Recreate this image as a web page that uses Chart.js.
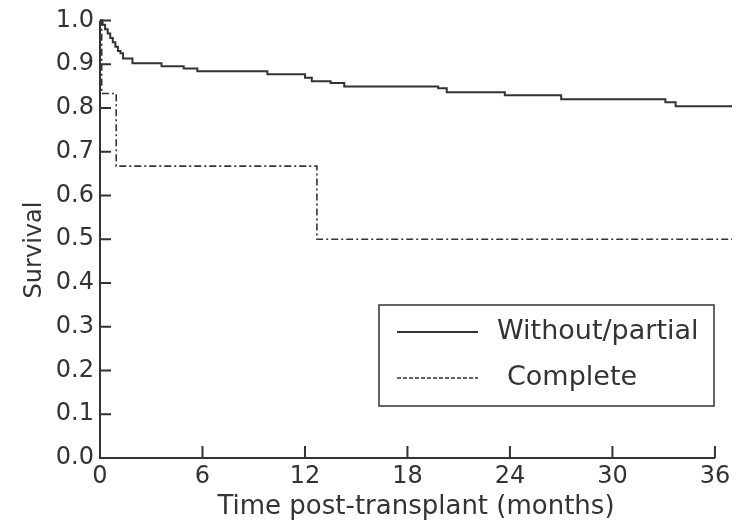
<!DOCTYPE html>
<html>
<head>
<meta charset="utf-8">
<script src="https://cdn.jsdelivr.net/npm/chart.js@4"></script>
<style>
  html, body { margin: 0; padding: 0; background: #fff; }
  #wrap { width: 743px; height: 524px; }
</style>
</head>
<body>
<div id="wrap"><canvas id="km"></canvas></div>
<script>
// tick labels
var monthTicks = [0, 6, 12, 18, 24, 30, 36];
var survTicks = [0, 0.1, 0.2, 0.3, 0.4, 0.5, 0.6, 0.7, 0.8, 0.9, 1.0];

// Without/partial (step starts at each time)
var partialTime = [0, 0.15, 0.3, 0.45, 0.6, 0.75, 0.9, 1.05, 1.2, 1.35, 1.9, 3.6, 4.9, 5.7, 9.8, 12.0, 12.4, 13.5, 14.3, 19.8, 20.3, 23.7, 27.0, 33.1, 33.7, 37];
var partialSurv = [1.0, 0.99, 0.98, 0.97, 0.96, 0.95, 0.94, 0.93, 0.925, 0.913, 0.902, 0.895, 0.890, 0.884, 0.877, 0.869, 0.861, 0.857, 0.849, 0.845, 0.836, 0.829, 0.820, 0.813, 0.804, 0.804];

// Complete
var completeTime = [0, 0.1, 0.95, 12.7, 37];
var completeSurv = [1.0, 0.833, 0.667, 0.5, 0.5];

function pts(t, s) {
    return t.map(function (v, i) { return {x: v, y: s[i]}; });
}

var ink = '#333';
var fontFam = "'DejaVu Sans', sans-serif";

// axes drawn by hand: ticks point inward, x axis stops at 36
var axesPlugin = {
    id: 'kmAxes',
    afterDraw: function (chart) {
        var ctx = chart.ctx, xs = chart.scales.x, ys = chart.scales.y;
        var x0 = xs.getPixelForValue(0), xEnd = xs.getPixelForValue(36);
        var yb = ys.getPixelForValue(0), yt = ys.getPixelForValue(1);
        ctx.save();
        ctx.strokeStyle = ink;
        ctx.lineWidth = 2;
        ctx.beginPath();
        ctx.moveTo(x0, yt);
        ctx.lineTo(x0, yb);
        ctx.lineTo(xEnd, yb);
        monthTicks.forEach(function (m) {
            var px = xs.getPixelForValue(m);
            ctx.moveTo(px, yb);
            ctx.lineTo(px, yb - 12);
        });
        survTicks.forEach(function (v) {
            var py = ys.getPixelForValue(v);
            ctx.moveTo(x0, py);
            ctx.lineTo(x0 + 11, py);
        });
        ctx.stroke();

        // y title, sits a bit below the middle in the original
        ctx.translate(35, 250);
        ctx.rotate(-Math.PI / 2);
        ctx.fillStyle = ink;
        ctx.font = '24px ' + fontFam;
        ctx.textAlign = 'center';
        ctx.textBaseline = 'middle';
        ctx.fillText('Survival', 0, 0);
        ctx.restore();
    }
};

// boxed legend inside the plot
var legendBox = {
    id: 'legendBox',
    afterDraw: function (chart) {
        var ctx = chart.ctx;
        var L = 379, T = 305, R = 714, B = 406;
        ctx.save();
        ctx.strokeStyle = ink;
        ctx.lineWidth = 1.5;
        ctx.strokeRect(L, T, R - L, B - T);
        var rows = [332, 378];
        chart.data.datasets.forEach(function (ds, i) {
            var y = rows[i];
            ctx.beginPath();
            ctx.lineWidth = ds.borderWidth;
            ctx.setLineDash(i === 0 ? [] : [4, 2]);
            ctx.moveTo(397, y);
            ctx.lineTo(478, y);
            ctx.stroke();
            ctx.setLineDash([]);
            ctx.fillStyle = ink;
            ctx.font = '27px ' + fontFam;
            ctx.textBaseline = 'middle';
            ctx.fillText(ds.label, i === 0 ? 497 : 507, y);
        });
        ctx.restore();
    }
};

new Chart(document.getElementById('km'), {
    type: 'line',
    data: {
        datasets: [{
            label: 'Without/partial',
            data: pts(partialTime, partialSurv),
            stepped: 'before',
            borderColor: ink,
            borderWidth: 2,
            pointRadius: 0,
            clip: false
        }, {
            label: 'Complete',
            data: pts(completeTime, completeSurv),
            stepped: 'before',
            borderColor: ink,
            borderWidth: 1.6,
            borderDash: [7, 3, 2, 3],
            pointRadius: 0,
            clip: false
        }]
    },
    options: {
        responsive: true,
        maintainAspectRatio: false,
        animation: false,
        layout: { padding: { left: 0, right: 11, top: 20, bottom: 0 } },
        plugins: {
            legend: { display: false },
            tooltip: { enabled: false }
        },
        scales: {
            x: {
                type: 'linear',
                min: 0,
                max: 37,
                afterBuildTicks: function (s) { s.ticks = monthTicks.map(function (v) { return {value: v}; }); },
                afterFit: function (s) { s.height = 66; },
                grid: { display: false, drawTicks: false },
                border: { display: false },
                ticks: { color: ink, font: { size: 24, family: fontFam }, padding: 4, maxRotation: 0 },
                title: { display: true, text: 'Time post-transplant (months)', color: ink, font: { size: 26, family: fontFam }, padding: { top: 0, bottom: 1 } }
            },
            y: {
                min: 0,
                max: 1,
                afterBuildTicks: function (s) { s.ticks = survTicks.map(function (v) { return {value: v}; }); },
                afterFit: function (s) { s.width = 100; },
                grid: { display: false, drawTicks: false },
                border: { display: false },
                ticks: { color: ink, font: { size: 24, family: fontFam }, padding: 6, callback: function (v) { return v.toFixed(1); } },
                title: { display: false }
            }
        }
    },
    plugins: [axesPlugin, legendBox]
});
</script>
</body>
</html>
